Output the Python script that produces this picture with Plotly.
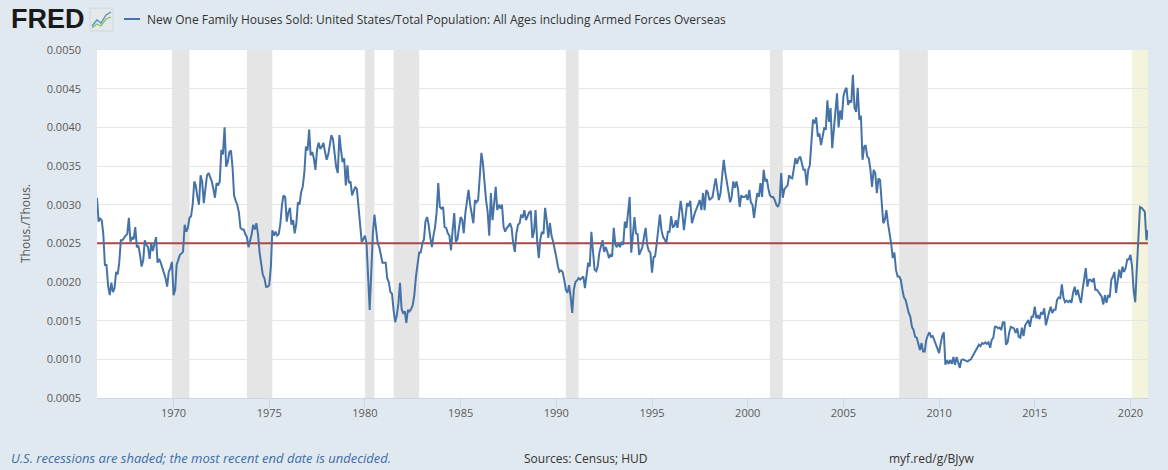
import pandas as pd
import plotly.graph_objects as go

# ---------------- data (monthly, Thous./Thous.) ----------------
sold_1960s = [
    0.00309, 0.00278, 0.00282, 0.00280, 0.00262, 0.00222, 0.00222, 0.00195, 0.00183, 0.00199, 0.00187, 0.00192,  # 1966
    0.00213, 0.00210, 0.00225, 0.00254, 0.00254, 0.00258, 0.00260, 0.00262, 0.00283, 0.00252, 0.00258, 0.00255,  # 1967
    0.00271, 0.00245, 0.00247, 0.00235, 0.00220, 0.00228, 0.00254, 0.00248, 0.00245, 0.00230, 0.00250, 0.00240,  # 1968
    0.00250, 0.00258, 0.00225, 0.00230, 0.00225, 0.00218, 0.00212, 0.00205, 0.00194, 0.00213, 0.00218, 0.00226,  # 1969
]
sold_1970s = [
    0.00183, 0.00190, 0.00222, 0.00228, 0.00235, 0.00237, 0.00239, 0.00274, 0.00265, 0.00270, 0.00283, 0.00285,  # 1970
    0.00300, 0.00330, 0.00325, 0.00310, 0.00300, 0.00338, 0.00330, 0.00302, 0.00320, 0.00338, 0.00341, 0.00335,  # 1971
    0.00330, 0.00320, 0.00309, 0.00328, 0.00325, 0.00330, 0.00371, 0.00365, 0.00400, 0.00349, 0.00355, 0.00368,  # 1972
    0.00370, 0.00347, 0.00312, 0.00305, 0.00300, 0.00290, 0.00270, 0.00268, 0.00268, 0.00262, 0.00258, 0.00245,  # 1973
    0.00252, 0.00262, 0.00274, 0.00268, 0.00276, 0.00262, 0.00238, 0.00225, 0.00209, 0.00205, 0.00194, 0.00194,  # 1974
    0.00196, 0.00220, 0.00267, 0.00260, 0.00265, 0.00260, 0.00262, 0.00275, 0.00300, 0.00312, 0.00310, 0.00278,  # 1975
    0.00290, 0.00296, 0.00274, 0.00280, 0.00263, 0.00275, 0.00303, 0.00300, 0.00316, 0.00323, 0.00341, 0.00375,  # 1976
    0.00370, 0.00397, 0.00364, 0.00368, 0.00360, 0.00345, 0.00371, 0.00380, 0.00372, 0.00375, 0.00380, 0.00368,  # 1977
    0.00358, 0.00365, 0.00380, 0.00390, 0.00385, 0.00367, 0.00349, 0.00341, 0.00390, 0.00371, 0.00355, 0.00360,  # 1978
    0.00325, 0.00351, 0.00328, 0.00330, 0.00312, 0.00318, 0.00323, 0.00320, 0.00297, 0.00267, 0.00252, 0.00255,  # 1979
]
sold_1980s = [
    0.00260, 0.00250, 0.00203, 0.00164, 0.00212, 0.00263, 0.00287, 0.00267, 0.00250, 0.00245, 0.00235, 0.00225,  # 1980
    0.00225, 0.00225, 0.00205, 0.00200, 0.00187, 0.00185, 0.00164, 0.00148, 0.00157, 0.00172, 0.00199, 0.00165,  # 1981
    0.00160, 0.00162, 0.00147, 0.00164, 0.00162, 0.00165, 0.00170, 0.00183, 0.00207, 0.00225, 0.00238, 0.00238,  # 1982
    0.00250, 0.00255, 0.00278, 0.00284, 0.00274, 0.00258, 0.00245, 0.00260, 0.00271, 0.00290, 0.00328, 0.00297,  # 1983
    0.00295, 0.00297, 0.00271, 0.00270, 0.00263, 0.00260, 0.00241, 0.00267, 0.00289, 0.00252, 0.00255, 0.00270,  # 1984
    0.00284, 0.00280, 0.00263, 0.00289, 0.00306, 0.00319, 0.00300, 0.00290, 0.00276, 0.00306, 0.00303, 0.00306,  # 1985
    0.00341, 0.00367, 0.00354, 0.00328, 0.00306, 0.00290, 0.00260, 0.00315, 0.00280, 0.00300, 0.00323, 0.00293,  # 1986
    0.00300, 0.00295, 0.00300, 0.00271, 0.00265, 0.00270, 0.00272, 0.00276, 0.00270, 0.00250, 0.00239, 0.00263,  # 1987
    0.00274, 0.00276, 0.00287, 0.00283, 0.00293, 0.00280, 0.00285, 0.00290, 0.00292, 0.00257, 0.00265, 0.00293,  # 1988
    0.00252, 0.00231, 0.00255, 0.00265, 0.00262, 0.00296, 0.00280, 0.00257, 0.00276, 0.00260, 0.00252, 0.00244,  # 1989
]
sold_1990s = [
    0.00232, 0.00220, 0.00213, 0.00215, 0.00213, 0.00203, 0.00190, 0.00186, 0.00196, 0.00181, 0.00160, 0.00190,  # 1990
    0.00200, 0.00202, 0.00205, 0.00203, 0.00205, 0.00207, 0.00192, 0.00207, 0.00225, 0.00220, 0.00265, 0.00240,  # 1991
    0.00216, 0.00214, 0.00220, 0.00238, 0.00248, 0.00254, 0.00239, 0.00245, 0.00239, 0.00231, 0.00235, 0.00233,  # 1992
    0.00270, 0.00248, 0.00245, 0.00250, 0.00245, 0.00252, 0.00248, 0.00278, 0.00270, 0.00293, 0.00310, 0.00238,  # 1993
    0.00267, 0.00284, 0.00263, 0.00262, 0.00235, 0.00241, 0.00245, 0.00258, 0.00270, 0.00248, 0.00240, 0.00238,  # 1994
    0.00212, 0.00232, 0.00233, 0.00250, 0.00271, 0.00287, 0.00267, 0.00258, 0.00255, 0.00250, 0.00265, 0.00265,  # 1995
    0.00285, 0.00271, 0.00272, 0.00280, 0.00270, 0.00287, 0.00305, 0.00290, 0.00267, 0.00284, 0.00302, 0.00298,  # 1996
    0.00305, 0.00276, 0.00284, 0.00290, 0.00295, 0.00300, 0.00306, 0.00293, 0.00315, 0.00293, 0.00319, 0.00316,  # 1997
    0.00306, 0.00308, 0.00310, 0.00323, 0.00334, 0.00319, 0.00306, 0.00315, 0.00334, 0.00358, 0.00341, 0.00330,  # 1998
    0.00319, 0.00303, 0.00310, 0.00330, 0.00322, 0.00330, 0.00320, 0.00297, 0.00312, 0.00310, 0.00310, 0.00312,  # 1999
]
sold_2000s = [
    0.00306, 0.00319, 0.00303, 0.00300, 0.00283, 0.00302, 0.00315, 0.00310, 0.00328, 0.00310, 0.00345, 0.00330,  # 2000
    0.00333, 0.00320, 0.00312, 0.00310, 0.00310, 0.00306, 0.00300, 0.00297, 0.00303, 0.00341, 0.00309, 0.00320,  # 2001
    0.00323, 0.00325, 0.00338, 0.00335, 0.00334, 0.00349, 0.00360, 0.00353, 0.00360, 0.00362, 0.00355, 0.00345,  # 2002
    0.00345, 0.00325, 0.00345, 0.00351, 0.00380, 0.00410, 0.00405, 0.00413, 0.00388, 0.00392, 0.00377, 0.00390,  # 2003
    0.00399, 0.00398, 0.00435, 0.00407, 0.00425, 0.00373, 0.00399, 0.00418, 0.00444, 0.00400, 0.00422, 0.00410,  # 2004
    0.00440, 0.00448, 0.00451, 0.00429, 0.00435, 0.00432, 0.00468, 0.00425, 0.00420, 0.00451, 0.00410, 0.00415,  # 2005
    0.00358, 0.00375, 0.00377, 0.00362, 0.00360, 0.00345, 0.00323, 0.00345, 0.00341, 0.00315, 0.00334, 0.00332,  # 2006
    0.00297, 0.00276, 0.00280, 0.00293, 0.00276, 0.00263, 0.00250, 0.00231, 0.00238, 0.00216, 0.00207, 0.00207,  # 2007
    0.00203, 0.00190, 0.00180, 0.00177, 0.00167, 0.00160, 0.00155, 0.00142, 0.00138, 0.00129, 0.00128, 0.00121,  # 2008
    0.00112, 0.00121, 0.00110, 0.00110, 0.00125, 0.00131, 0.00135, 0.00129, 0.00130, 0.00125, 0.00119, 0.00112,  # 2009
]
sold_2010s = [
    0.00108, 0.00121, 0.00130, 0.00135, 0.00093, 0.00099, 0.00094, 0.00099, 0.00094, 0.00103, 0.00093, 0.00103,  # 2010
    0.00097, 0.00089, 0.00099, 0.00100, 0.00099, 0.00098, 0.00097, 0.00099, 0.00100, 0.00104, 0.00108, 0.00112,  # 2011
    0.00116, 0.00119, 0.00117, 0.00121, 0.00120, 0.00122, 0.00120, 0.00122, 0.00115, 0.00125, 0.00128, 0.00142,  # 2012
    0.00142, 0.00140, 0.00141, 0.00138, 0.00148, 0.00148, 0.00119, 0.00122, 0.00135, 0.00142, 0.00141, 0.00140,  # 2013
    0.00134, 0.00140, 0.00129, 0.00128, 0.00141, 0.00130, 0.00144, 0.00147, 0.00151, 0.00142, 0.00155, 0.00155,  # 2014
    0.00168, 0.00153, 0.00157, 0.00152, 0.00161, 0.00158, 0.00166, 0.00144, 0.00155, 0.00161, 0.00168, 0.00160,  # 2015
    0.00164, 0.00164, 0.00177, 0.00180, 0.00179, 0.00197, 0.00180, 0.00174, 0.00176, 0.00174, 0.00176, 0.00173,  # 2016
    0.00186, 0.00194, 0.00183, 0.00190, 0.00180, 0.00173, 0.00190, 0.00203, 0.00218, 0.00194, 0.00203, 0.00203,  # 2017
    0.00200, 0.00205, 0.00190, 0.00190, 0.00187, 0.00183, 0.00181, 0.00171, 0.00183, 0.00173, 0.00183, 0.00180,  # 2018
    0.00203, 0.00207, 0.00213, 0.00186, 0.00203, 0.00216, 0.00205, 0.00220, 0.00213, 0.00218, 0.00229, 0.00229,  # 2019
]
sold_2020s = [
    0.00235, 0.00220, 0.00190, 0.00174, 0.00216, 0.00258, 0.00297, 0.00296, 0.00293, 0.00291, 0.00254, 0.00267,  # 2020
]
reference_level = 0.0025

recession_starts = ["1969-12-01", "1973-11-01", "1980-01-01", "1981-07-01", "1990-07-01", "2001-03-01", "2007-12-01"]
recession_ends = ["1970-11-01", "1975-03-01", "1980-07-01", "1982-11-01", "1991-03-01", "2001-11-01", "2009-06-01"]
current_recession_start = "2020-02-01"

tick_years = [1970, 1975, 1980, 1985, 1990, 1995, 2000, 2005, 2010, 2015, 2020]
y_ticks = [0.0005, 0.0010, 0.0015, 0.0020, 0.0025, 0.0030, 0.0035, 0.0040, 0.0045, 0.0050]

series_name = "New One Family Houses Sold: United States/Total Population: All Ages including Armed Forces Overseas"

# ---------------- build ----------------
values = sold_1960s + sold_1970s + sold_1980s + sold_1990s + sold_2000s + sold_2010s + sold_2020s
dates = pd.date_range(start="1966-01-01", periods=len(values), freq="MS")

W, H = 1168, 470
L, R, T, B = 97, 20, 50, 72
PW, PH = W - L - R, H - T - B


def px(x):
    return (x - L) / PW


def py(y):
    return (H - B - y) / PH


BG = "#e1e9f0"
FONT = "Open Sans"

fig = go.Figure()

fig.add_trace(go.Scatter(
    x=[dates[0], dates[-1]], y=[reference_level, reference_level],
    mode="lines", line=dict(color="#aa4643", width=2), showlegend=False, hoverinfo="skip"))

fig.add_trace(go.Scatter(
    x=dates, y=values, mode="lines", name=series_name,
    line=dict(color="#4572a7", width=2), showlegend=False))

shapes = []
for s, e in zip(recession_starts, recession_ends):
    shapes.append(dict(type="rect", xref="x", yref="paper", x0=s, x1=e, y0=0, y1=1,
                       fillcolor="#e5e5e5", line=dict(width=0), layer="below"))
shapes.append(dict(type="rect", xref="x", yref="paper", x0=current_recession_start, x1=str(dates[-1].date()),
                   y0=0, y1=1, fillcolor="#f4f3dc", line=dict(width=0), layer="below"))

# legend line sample
shapes.append(dict(type="line", xref="paper", yref="paper", x0=px(124), x1=px(140), y0=py(19), y1=py(19),
                   line=dict(color="#4572a7", width=2)))
# FRED icon
shapes.append(dict(type="rect", xref="paper", yref="paper", x0=px(90), x1=px(113), y0=py(31), y1=py(8),
                   fillcolor="#e4e8eb", line=dict(color="#d0d6dc", width=1)))
shapes.append(dict(type="path", xref="paper", yref="paper",
                   path="M {} {} L {} {} L {} {} L {} {} L {} {}".format(
                       px(92), py(26), px(97), py(20), px(101), py(23), px(106), py(15), px(111), py(12)),
                   line=dict(color="#4b8fc9", width=1.3)))
shapes.append(dict(type="path", xref="paper", yref="paper",
                   path="M {} {} L {} {} L {} {} L {} {} L {} {}".format(
                       px(92), py(28), px(97), py(24), px(101), py(26), px(106), py(19), px(111), py(17)),
                   line=dict(color="#8dbf5a", width=1.3)))

annotations = [
    dict(text="<b>FRED</b>", xref="paper", yref="paper", x=px(9), y=py(19), xanchor="left", yanchor="middle",
         showarrow=False, font=dict(family="Liberation Sans", size=27, color="#1a1a1a")),
    dict(text=series_name, xref="paper", yref="paper", x=px(145), y=py(19), xanchor="left", yanchor="middle",
         showarrow=False, font=dict(family=FONT, size=12, color="#333333")),
    dict(text="Thous./Thous.", xref="paper", yref="paper", x=px(25), y=0.5, xanchor="center", yanchor="middle",
         textangle=-90, showarrow=False, font=dict(family=FONT, size=12, color="#595959")),
    dict(text="<i>U.S. recessions are shaded; the most recent end date is undecided.</i>", xref="paper",
         yref="paper", x=px(9), y=py(458), xanchor="left", yanchor="middle", showarrow=False,
         font=dict(family=FONT, size=13, color="#3e6ca6")),
    dict(text="Sources: Census; HUD", xref="paper", yref="paper", x=px(522), y=py(458), xanchor="left",
         yanchor="middle", showarrow=False, font=dict(family=FONT, size=12, color="#333333")),
    dict(text="myf.red/g/BJyw", xref="paper", yref="paper", x=px(887), y=py(458), xanchor="left",
         yanchor="middle", showarrow=False, font=dict(family=FONT, size=12, color="#333333")),
]

fig.update_layout(
    width=W, height=H,
    margin=dict(l=L, r=R, t=T, b=B, pad=0),
    paper_bgcolor=BG, plot_bgcolor="#ffffff",
    font=dict(family=FONT, size=11, color="#595959"),
    shapes=shapes, annotations=annotations,
    showlegend=False,
    xaxis=dict(
        type="date", range=[dates[0], dates[-1]],
        tickvals=[pd.Timestamp(year=y, month=1, day=1) for y in tick_years],
        ticktext=[str(y) for y in tick_years],
        showgrid=False, zeroline=False,
        showline=True, linecolor="#ccd6eb", linewidth=1,
        ticks="outside", ticklen=9, tickcolor="#ccd6eb", tickwidth=1,
        ticklabelstandoff=-4,
        tickfont=dict(family=FONT, size=11, color="#595959"),
        fixedrange=True,
    ),
    yaxis=dict(
        range=[0.0005, 0.0050], tickvals=y_ticks, ticktext=["{:.4f}".format(v) for v in y_ticks],
        showgrid=True, gridcolor="#e6e6e6", gridwidth=1, zeroline=False, showline=False,
        ticks="", ticklabelstandoff=15,
        tickfont=dict(family=FONT, size=11, color="#595959"),
        fixedrange=True,
    ),
)

fig.write_html("out.html")
